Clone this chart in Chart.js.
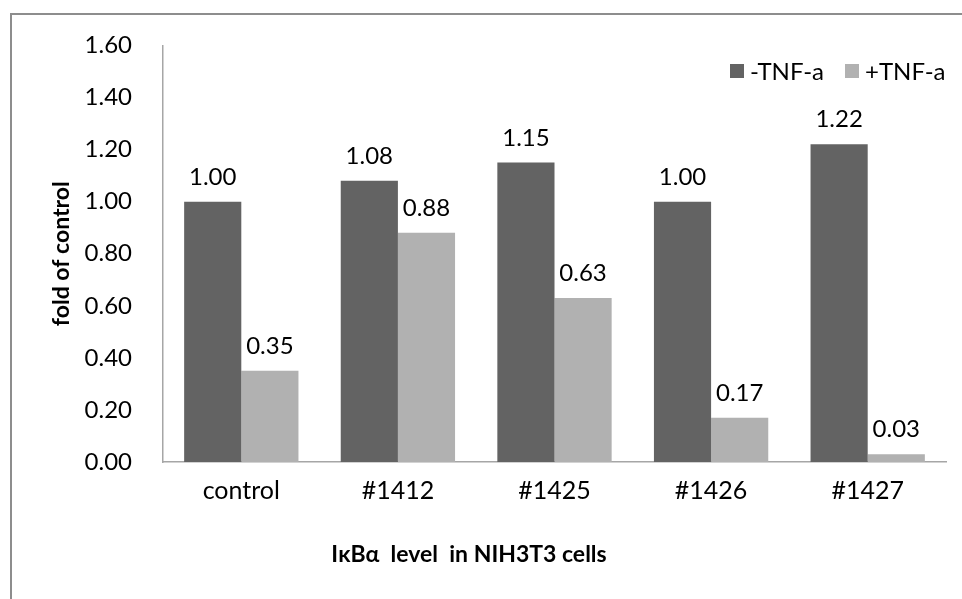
<!DOCTYPE html>
<html>
<head>
<meta charset="utf-8">
<script src="https://cdn.jsdelivr.net/npm/chart.js@4"></script>
<style>
  html, body { margin: 0; padding: 0; background: #fff; }
  #wrap { width: 962px; height: 599px; position: relative; }
</style>
</head>
<body>
<div id="wrap"><canvas id="chart" width="962" height="599"></canvas></div>
<script>
const categories = ['control', '#1412', '#1425', '#1426', '#1427'];
const minusTnf = [1.00, 1.08, 1.15, 1.00, 1.22];
const plusTnf = [0.35, 0.88, 0.63, 0.17, 0.03];
const seriesNames = ['-TNF-a', '+TNF-a'];
const seriesColors = ['#636363', '#b1b1b1'];
const yTitle = 'fold of control';
const xTitle = 'I\u03baB\u03b1  level  in NIH3T3 cells';

const FONT = 'Lato, Carlito, "Open Sans", sans-serif';

// frame, legend, value labels and x title
const extras = {
    id: 'extras',
    beforeDraw(chart) {
        const ctx = chart.ctx;
        ctx.save();
        ctx.strokeStyle = '#8d8d8d';
        ctx.lineWidth = 2;
        ctx.beginPath();
        ctx.moveTo(11, 600);
        ctx.lineTo(11, 14);
        ctx.lineTo(962, 14);
        ctx.stroke();
        ctx.restore();
    },
    afterDatasetsDraw(chart) {
        const ctx = chart.ctx;
        const area = chart.chartArea;
        ctx.save();
        ctx.fillStyle = '#000';
        ctx.font = '24px ' + FONT;
        ctx.textAlign = 'center';
        ctx.textBaseline = 'alphabetic';
        chart.data.datasets.forEach((ds, i) => {
            chart.getDatasetMeta(i).data.forEach((bar, j) => {
                ctx.fillText(ds.data[j].toFixed(2), bar.x, bar.y - 17);
            });
        });

        // legend
        ctx.font = '24px ' + FONT;
        ctx.textAlign = 'left';
        ctx.textBaseline = 'middle';
        const legendX = [730, 845];
        chart.data.datasets.forEach((ds, i) => {
            ctx.fillStyle = ds.backgroundColor;
            ctx.fillRect(legendX[i], 64, 14, 14);
            ctx.fillStyle = '#000';
            ctx.fillText(ds.label, legendX[i] + 20, 72);
        });

        // x axis title
        ctx.font = 'bold 23px ' + FONT;
        ctx.textAlign = 'center';
        ctx.fillText(xTitle, area.left + 306, 555);
        ctx.restore();
    }
};

new Chart(document.getElementById('chart'), {
    type: 'bar',
    data: {
        labels: categories,
        datasets: [
            { label: seriesNames[0], data: minusTnf, backgroundColor: seriesColors[0] },
            { label: seriesNames[1], data: plusTnf, backgroundColor: seriesColors[1] }
        ]
    },
    options: {
        responsive: false,
        animation: false,
        layout: { padding: { left: 45, top: 45, right: 16, bottom: 27 } },
        datasets: { bar: { barPercentage: 1, categoryPercentage: 0.73 } },
        plugins: { legend: { display: false }, tooltip: { enabled: false } },
        scales: {
            x: {
                grid: { display: false, drawTicks: false },
                border: { display: true, color: '#a6a6a6', width: 1.5 },
                ticks: { color: '#000', font: { family: FONT, size: 25 }, padding: 14, maxRotation: 0 },
                afterFit(scale) { scale.height = 110; }
            },
            y: {
                min: 0,
                max: 1.6,
                grid: { display: false, drawTicks: false },
                border: { display: true, color: '#a6a6a6', width: 1.5 },
                ticks: {
                    stepSize: 0.2,
                    color: '#000',
                    font: { family: FONT, size: 24 },
                    padding: 31,
                    callback: v => v.toFixed(2)
                },
                title: {
                    display: true,
                    text: yTitle,
                    color: '#000',
                    font: { family: FONT, size: 23, weight: 'bold' },
                    padding: 3
                },
                afterFit(scale) { scale.width = 118; }
            }
        }
    },
    plugins: [extras]
});
</script>
</body>
</html>
